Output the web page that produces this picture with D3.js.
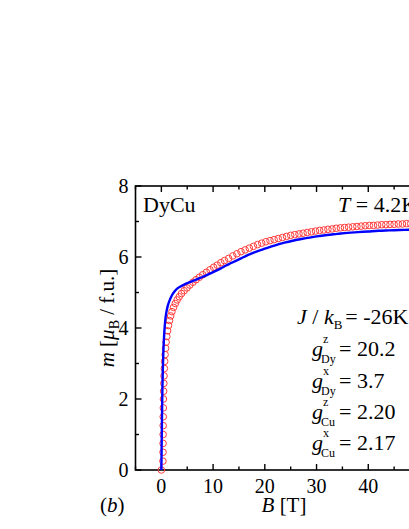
<!DOCTYPE html>
<html>
<head>
<meta charset="utf-8">
<script src="https://cdn.jsdelivr.net/npm/d3@7"></script>
<style>
  html, body { margin: 0; padding: 0; background: #fff; overflow: hidden; }
  svg { display: block; font-family: "Liberation Serif", "Times New Roman", serif; }
</style>
</head>
<body>
<div id="chart"></div>
<script>
// measured magnetization, DyCu at 4.2 K
var fieldB = [0.00, 0.30, 0.32, 0.33, 0.34, 0.35, 0.36, 0.38, 0.40, 0.44, 0.48, 0.52, 0.58, 0.64, 0.72, 0.82, 0.92,
  1.05, 1.20, 1.38, 1.58, 1.80, 2.05, 2.35, 2.70, 3.05, 3.45, 3.90, 4.40, 4.95, 5.50, 6.10, 6.70, 7.35, 8.00,
  8.70, 9.40, 10.10, 10.80, 11.50, 12.20, 13.0, 13.8, 14.6, 15.4, 16.2, 17.0, 17.8, 18.6, 19.4, 20.2, 21.0,
  21.8, 22.6, 23.4, 24.2, 25.0, 25.8, 26.6, 27.4, 28.2, 29.0, 29.8, 30.6, 31.4, 32.2, 33.0, 33.8, 34.6, 35.4,
  36.2, 37.0, 37.8, 38.6, 39.4, 40.2, 41.0, 41.8, 42.6, 43.4, 44.2, 45.0, 45.8, 46.6, 47.4, 48.2, 49.0, 49.8];
var moment = [0.00, 0.25, 0.50, 0.75, 1.00, 1.25, 1.50, 1.75, 2.00, 2.22, 2.44, 2.65, 2.86, 3.06, 3.25, 3.43, 3.60,
  3.76, 3.92, 4.07, 4.21, 4.34, 4.46, 4.58, 4.69, 4.79, 4.88, 4.97, 5.05, 5.13, 5.21, 5.29, 5.36, 5.43, 5.50,
  5.57, 5.64, 5.71, 5.77, 5.84, 5.90, 5.96, 6.03, 6.09, 6.15, 6.20, 6.25, 6.30, 6.35, 6.39, 6.43, 6.46,
  6.49, 6.52, 6.55, 6.58, 6.61, 6.63, 6.65, 6.67, 6.69, 6.71, 6.73, 6.75, 6.76, 6.78, 6.79, 6.81, 6.82, 6.83,
  6.84, 6.85, 6.86, 6.87, 6.88, 6.89, 6.89, 6.90, 6.91, 6.91, 6.92, 6.92, 6.93, 6.93, 6.94, 6.94, 6.95, 6.95];

// model fit
var fitB = [0, 0.05, 0.1, 0.15, 0.2, 0.28, 0.38, 0.5, 0.65, 0.8, 1.0, 1.25, 1.6, 2.0, 2.5, 3.0, 3.7, 4.5, 5.5,
  6.5, 7.5, 8.5, 9.5, 10.5, 11.5, 12.5, 13.5, 14.5, 15.5, 16.5, 17.5, 18.5, 19.5, 20.5, 22, 24, 26, 28, 30,
  32, 34, 36, 38, 40, 42, 44, 46, 48, 50];
var fitM = [0, 0.6, 1.2, 1.8, 2.3, 2.8, 3.3, 3.7, 4.05, 4.28, 4.47, 4.63, 4.78, 4.91, 5.02, 5.10, 5.17, 5.23, 5.29,
  5.35, 5.41, 5.47, 5.54, 5.61, 5.68, 5.76, 5.83, 5.90, 5.97, 6.04, 6.10, 6.16, 6.21, 6.26, 6.33, 6.41, 6.48, 6.53, 6.58,
  6.62, 6.65, 6.68, 6.70, 6.72, 6.74, 6.75, 6.76, 6.77, 6.78];

var xTicks = [0, 10, 20, 30, 40, 50];
var xMinor = [-5, 5, 15, 25, 35, 45];
var yTicks = [0, 2, 4, 6, 8];
var yMinor = [1, 3, 5, 7];

var params = [
  { sup: "z", sub: "Dy", val: "= 20.2" },
  { sup: "x", sub: "Dy", val: "= 3.7" },
  { sup: "z", sub: "Cu", val: "= 2.20" },
  { sup: "x", sub: "Cu", val: "= 2.17" }
];

var width = 409, height = 529;
var pLeft = 135.5, pRight = 420, pTop = 186, pBottom = 470;

var svg = d3.select("#chart").append("svg")
    .attr("width", width)
    .attr("height", height);

var x = d3.scaleLinear().domain([-5, 50]).range([pLeft, pRight]);
var y = d3.scaleLinear().domain([0, 8]).range([pBottom, pTop]);

// frame
svg.append("rect")
    .attr("x", pLeft).attr("y", pTop)
    .attr("width", pRight - pLeft).attr("height", pBottom - pTop)
    .attr("fill", "none").attr("stroke", "#000").attr("stroke-width", 1.6);

// ticks, inward on all sides
function ticks(sel, vals, len, axis, side) {
  sel.selectAll(null).data(vals).enter().append("line")
      .attr("x1", d => axis == "x" ? x(d) : side)
      .attr("x2", d => axis == "x" ? x(d) : side + len)
      .attr("y1", d => axis == "x" ? side : y(d))
      .attr("y2", d => axis == "x" ? side + len : y(d))
      .attr("stroke", "#000").attr("stroke-width", 1.4);
}
var tg = svg.append("g");
ticks(tg, xTicks, -6, "x", pBottom);
ticks(tg, xMinor, -3.5, "x", pBottom);
ticks(tg, xTicks, 6, "x", pTop);
ticks(tg, xMinor, 3.5, "x", pTop);
ticks(tg, yTicks, 6, "y", pLeft);
ticks(tg, yMinor, 3.5, "y", pLeft);

svg.append("g").selectAll("text").data(xTicks.filter(d => d < 50)).enter().append("text")
    .attr("x", d => x(d)).attr("y", pBottom + 23)
    .attr("text-anchor", "middle").attr("font-size", 20)
    .text(d => d);

svg.append("g").selectAll("text").data(yTicks).enter().append("text")
    .attr("x", pLeft - 7).attr("y", d => y(d) + 7)
    .attr("text-anchor", "end").attr("font-size", 20)
    .text(d => d);

// data
svg.append("g").selectAll("circle")
    .data(fieldB.map((b, i) => [b, moment[i]]))
    .enter().append("circle")
    .attr("cx", d => x(d[0])).attr("cy", d => y(d[1]))
    .attr("r", 3.3)
    .attr("fill", "none").attr("stroke", "#ff3b3b").attr("stroke-width", 1);

var line = d3.line().x(d => x(d[0])).y(d => y(d[1])).curve(d3.curveMonotoneX);
svg.append("path")
    .datum(fitB.map((b, i) => [b, fitM[i]]))
    .attr("d", line)
    .attr("fill", "none").attr("stroke", "#0000ff").attr("stroke-width", 2.4);

// axis titles
var xl = svg.append("text").attr("x", 284).attr("y", 512)
    .attr("text-anchor", "middle").attr("font-size", 21);
xl.append("tspan").attr("font-style", "italic").text("B");
xl.append("tspan").text(" [T]");

var yl = svg.append("text")
    .attr("transform", "translate(114,318) rotate(-90)")
    .attr("text-anchor", "middle").attr("font-size", 21);
yl.append("tspan").attr("font-style", "italic").text("m");
yl.append("tspan").text(" [");
yl.append("tspan").attr("font-style", "italic").text("μ");
yl.append("tspan").attr("font-size", 14).attr("dy", 5).text("B");
yl.append("tspan").attr("dy", -5).text(" / f.u.]");

var bl = svg.append("text").attr("x", 100).attr("y", 512).attr("font-size", 21);
bl.append("tspan").text("(");
bl.append("tspan").attr("font-style", "italic").text("b");
bl.append("tspan").text(")");

// annotations
svg.append("text").attr("x", 143).attr("y", 212).attr("font-size", 22).text("DyCu");

var tt = svg.append("text").attr("x", 338).attr("y", 212).attr("font-size", 22);
tt.append("tspan").attr("font-style", "italic").text("T");
tt.append("tspan").text(" = 4.2K");

var jt = svg.append("text").attr("x", 297).attr("y", 324).attr("font-size", 22);
jt.append("tspan").attr("font-style", "italic").text("J");
jt.append("tspan").text(" / ");
jt.append("tspan").attr("font-style", "italic").text("k");
jt.append("tspan").attr("font-size", 13).attr("dy", 5).text("B");
jt.append("tspan").attr("dy", -5).attr("dx", 3).text("= -26K");

var gy = [356, 388, 419, 450];
params.forEach(function(p, i) {
  var g = svg.append("g");
  g.append("text").attr("x", 312).attr("y", gy[i]).attr("font-size", 22)
      .attr("font-style", "italic").text("g");
  g.append("text").attr("x", 323).attr("y", gy[i] - 13).attr("font-size", 12).text(p.sup);
  g.append("text").attr("x", 321).attr("y", gy[i] + 7).attr("font-size", 12).text(p.sub);
  g.append("text").attr("x", 339).attr("y", gy[i]).attr("font-size", 22).text(p.val);
});
</script>
</body>
</html>
